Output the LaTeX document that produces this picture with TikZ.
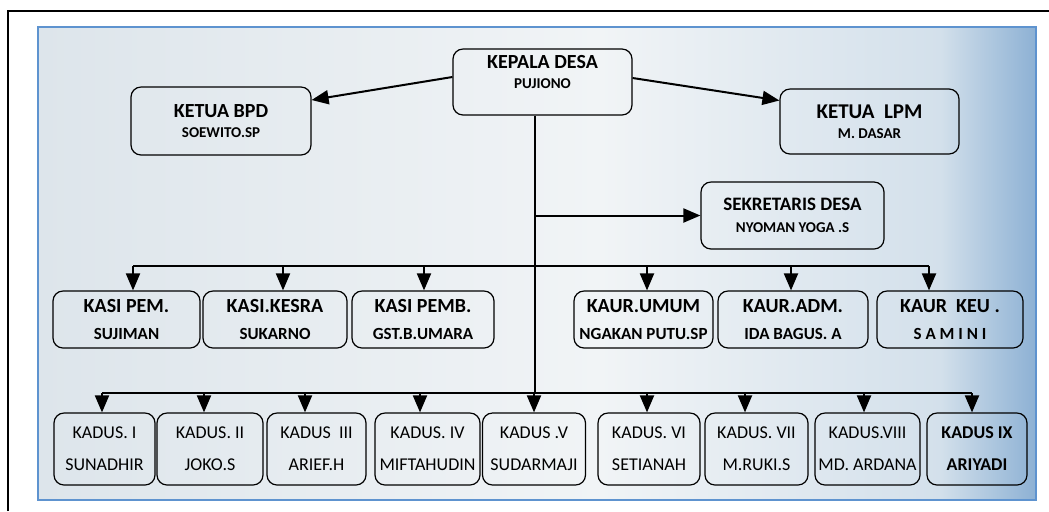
\documentclass[tikz,border=0pt]{standalone}
\usepackage{fontspec}
\setmainfont{Carlito}
\usetikzlibrary{arrows.meta}
\usetikzlibrary{calc}
\usepackage{xcolor}

\definecolor{panelleft}{HTML}{DDE5EB}
\definecolor{panelmid}{HTML}{F1F4F6}
\definecolor{panelside}{HTML}{D3E0EB}
\definecolor{panelright}{HTML}{8DB1D4}
\definecolor{panelrim}{HTML}{5E93CF}

\tikzset{
  box/.style={draw, rounded corners=5pt, line width=0.6pt, align=center, inner sep=0pt},
  link/.style={line width=1pt, -{Triangle[length=8.5pt,width=7pt]}},
  bus/.style={line width=1pt},
}
\newcommand{\headtext}[5]{{\fontsize{#3}{12}\selectfont\bfseries #1}\\[#4]{\fontsize{#5}{9}\selectfont\bfseries #2}}

\begin{document}
\begin{tikzpicture}[x=0.5pt,y=-0.5pt]

        \useasboundingbox (0,0) rectangle (1049,511);

        % Frame and panel
        \shade[left color=panelleft, right color=panelmid] (38,27) rectangle (600,500);
        \shade[left color=panelmid, right color=panelside] (599,27) rectangle (941,500);
        \shade[left color=panelside, right color=panelright] (940,27) rectangle (1036,500);
        \draw[panelrim, line width=0.8pt] (38,27) rectangle (1036,500);
        \draw[line width=1pt] (8,511) -- (8,11) -- (1049,11);

        % Top level
        \node[box, minimum width=89.5pt, minimum height=33pt] (kades) at (542.5,82) {\headtext{KEPALA DESA}{PUJIONO}{10}{-2pt}{7.5}\\[-2pt]};
        \node[box, minimum width=90pt, minimum height=34pt] (bpd) at (221,121) {\headtext{KETUA BPD}{SOEWITO.SP}{10}{-2pt}{7.5}};
        \node[box, minimum width=89.5pt, minimum height=32.5pt] (lpm) at (869.5,121.5) {\headtext{KETUA~~LPM}{M. DASAR}{10.5}{-2pt}{7.5}};
        \node[box, minimum width=91.5pt, minimum height=33.5pt] (sekdes) at (792.5,215.5) {\headtext{SEKRETARIS DESA}{NYOMAN YOGA .S}{9.5}{-1pt}{7.5}};

        \draw[link] ($(kades.west)+(0,-5)$) -- ($(bpd.east)+(0,-21)$);
        \draw[link] ($(kades.east)+(0,-4)$) -- ($(lpm.west)+(0,-21)$);

        % KASI and KAUR
        \foreach \n/\x/\w/\ax/\ttl/\nm in {
            1/126.5/147/133/KASI PEM./SUJIMAN,
            2/275/144/283/KASI.KESRA/SUKARNO,
            3/423/142/424/KASI PEMB./GST.B.UMARA,
            4/643.5/139/647/KAUR.UMUM/NGAKAN PUTU.SP,
            5/793/150/791/KAUR.ADM./IDA BAGUS. A,
            6/950/146/929/KAUR~~KEU~./S A M I N I}
        {
          \node[box, minimum width=\w*0.5pt, minimum height=28.5pt] (staf\n) at (\x,319.5) {\headtext{\ttl}{\nm}{10}{1.5pt}{8.5}};
          \coordinate (t\n) at (\ax,266);
          \draw[link] (t\n) -- (t\n |- staf\n.north);
        }
        \draw[bus] (t1) -- (t6);

        % KADUS
        \foreach \n/\x/\w/\ax/\ttl/\nm in {
            1/104.5/101/102/KADUS. I/SUNADHIR,
            2/210/106/204/KADUS. II/JOKO.S,
            3/316.5/99/305/KADUS~~III/ARIEF.H,
            4/427.5/105/420/KADUS. IV/MIFTAHUDIN,
            5/534/103/534/KADUS .V/SUDARMAJI,
            6/649/102/647/KADUS. VI/SETIANAH,
            7/756.5/103/745/KADUS. VII/M.RUKI.S,
            8/867.5/105/864/KADUS.VIII/MD. ARDANA,
            9/977/100/972/\textbf{KADUS IX}/\textbf{ARIYADI}}
        {
          \node[box, minimum width=\w*0.5pt, minimum height=36pt, font=\fontsize{9}{16}\selectfont] (kadus\n) at (\x,449) {\ttl\\\nm};
          \coordinate (d\n) at (\ax,393);
          \draw[link] (d\n) -- (d\n |- kadus\n.north);
        }
        \draw[bus] (d1) -- (d9);

        % Trunk
        \coordinate (trunk) at ($(kades.south)+(-8,0)$);
        \draw[bus] (trunk) -- (trunk |- d5);
        \draw[link] (trunk |- sekdes.west) -- (sekdes.west);

\end{tikzpicture}
\end{document}
